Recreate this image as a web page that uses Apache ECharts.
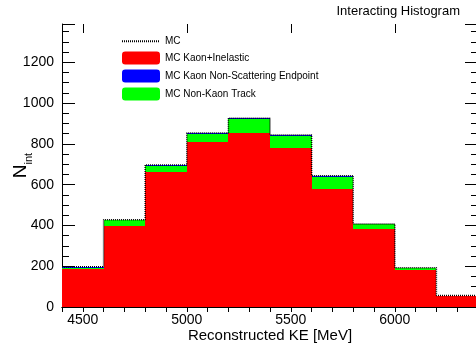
<!DOCTYPE html>
<html>
<head>
<meta charset="utf-8">
<script src="https://cdn.jsdelivr.net/npm/echarts@6/dist/echarts.min.js"></script>
<style>
  html, body { margin: 0; padding: 0; background: #fff; }
  #main { width: 476px; height: 344px; }
</style>
</head>
<body>
<div id="main"></div>
<script>
// bins (lower edges, MeV) and counts per bin
var binLow = [4400, 4600, 4800, 5000, 5200, 5400, 5600, 5800, 6000, 6200];
var binWidth = 200;
var kaonInelastic = [186, 395, 660, 807, 855, 779, 577, 383, 183, 52];
var nonKaonTrack = [7, 30, 34, 41, 66, 60, 63, 22, 8, 3];
var kaonEndpoint = [4, 3, 3, 5, 5, 5, 4, 2, 1, 1];
var mcTotal = [197, 428, 697, 853, 926, 844, 644, 407, 192, 56];
var xTickLabels = [4500, 5000, 5500, 6000];

var font = "'Liberation Sans', Arial, Helvetica, sans-serif";
var dom = document.getElementById("main");
var myChart = echarts.init(dom, null, { renderer: "canvas" });

// stack layers bottom-up: red, green, blue
var layers = [kaonInelastic, nonKaonTrack, kaonEndpoint];
function stackRows(k) {
  var rows = [];
  for (var i = 0; i < binLow.length; i++) {
    var base = 0;
    for (var j = 0; j < k; j++) base += layers[j][i];
    rows.push([binLow[i], binLow[i] + binWidth, base, base + layers[k][i]]);
  }
  return rows;
}

var mcLine = binLow.map(function (x, i) { return [x, mcTotal[i]]; });
mcLine.push([binLow[binLow.length - 1] + binWidth, mcTotal[mcTotal.length - 1]]);

function renderBin(params, api) {
  var p0 = api.coord([api.value(0), api.value(2)]);
  var p1 = api.coord([api.value(1), api.value(3)]);
  // snap to whole pixels so neighbouring bins join without seams
  var x0 = Math.round(p0[0]), x1 = Math.round(p1[0]);
  var yb = Math.round(p0[1]), yt = Math.round(p1[1]);
  return {
    type: "rect",
    shape: { x: x0, y: yt, width: x1 - x0, height: yb - yt },
    style: { fill: api.visual("color") },
  };
}

function histSeries(name, color, k) {
  return {
    name: name,
    type: "custom",
    renderItem: renderBin,
    itemStyle: { color: color },
    encode: { x: [0, 1], y: [2, 3] },
    data: stackRows(k),
    z: 2,
  };
}

function plain(v) { return String(v); }

var black = { color: "#000", width: 1 };

var option = {
  animation: false,
  textStyle: { fontFamily: font },
  title: {
    text: "Interacting Histogram",
    right: 16,
    top: 5,
    padding: 0,
    textStyle: { fontSize: 13, fontWeight: "normal", color: "#000", fontFamily: font },
  },
  legend: {
    orient: "vertical",
    left: 121,
    top: 36,
    padding: 0,
    itemWidth: 38,
    itemHeight: 13,
    itemGap: 5,
    textStyle: { fontSize: 10, color: "#000", fontFamily: font },
    data: [
      { name: "MC", itemStyle: { opacity: 0 } },
      { name: "MC Kaon+Inelastic", icon: "roundRect" },
      { name: "MC Kaon Non-Scattering Endpoint", icon: "roundRect" },
      { name: "MC Non-Kaon Track", icon: "roundRect" },
    ],
  },
  grid: { left: 62, top: 24, width: 416, height: 283, containLabel: false, outerBoundsMode: "none" },
  xAxis: [
    {
      type: "value",
      position: "bottom",
      min: 4400,
      max: 6400,
      interval: 100,
      axisLine: { show: true, lineStyle: black },
      axisTick: { show: false },
      axisLabel: {
        customValues: xTickLabels,
        formatter: plain,
        margin: 6,
        fontSize: 14,
        color: "#000",
        fontFamily: font,
      },
      splitLine: { show: false },
      name: "Reconstructed KE [MeV]",
      nameLocation: "middle",
      nameGap: 21,
      nameMoveOverlap: false,
      nameTextStyle: { fontSize: 15, color: "#000", fontFamily: font },
    },
    {
      type: "value",
      position: "top",
      min: 4400,
      max: 6400,
      interval: 100,
      axisLine: { show: true, lineStyle: black },
      axisTick: { show: true, inside: true, length: 5, lineStyle: black },
      axisLabel: { show: false },
      splitLine: { show: false },
    },
    {
      type: "value",
      position: "top",
      min: 4400,
      max: 6400,
      axisLine: { show: false },
      axisTick: { show: true, inside: true, length: 9, customValues: xTickLabels, lineStyle: black },
      axisLabel: { show: false },
      splitLine: { show: false },
    },
  ],
  yAxis: [
    {
      type: "value",
      position: "left",
      min: 0,
      max: 1388,
      interval: 200,
      axisLine: { show: true, lineStyle: black },
      axisTick: { show: true, inside: true, length: 13, lineStyle: black },
      minorTick: { show: true, splitNumber: 4, length: 7, lineStyle: black },
      axisLabel: { margin: 8, fontSize: 14, color: "#000", fontFamily: font, showMaxLabel: false, formatter: plain },
      splitLine: { show: false },
      name: "{n|N}{s|int}",
      nameLocation: "middle",
      nameGap: 28,
      nameMoveOverlap: false,
      nameTextStyle: {
        color: "#000",
        fontFamily: font,
        rich: {
          n: { fontSize: 19, verticalAlign: "bottom", padding: [0, 0, 4, 0], fontFamily: font, color: "#000" },
          s: { fontSize: 11, verticalAlign: "bottom", fontFamily: font, color: "#000" },
        },
      },
    },
    {
      type: "value",
      position: "right",
      min: 0,
      max: 1388,
      interval: 200,
      axisLine: { show: true, lineStyle: black },
      axisTick: { show: true, inside: true, length: 13, lineStyle: black },
      minorTick: { show: true, splitNumber: 4, length: 7, lineStyle: black },
      axisLabel: { show: false },
      splitLine: { show: false },
    },
  ],
  series: [
    histSeries("MC Kaon+Inelastic", "#ff0000", 0),
    histSeries("MC Non-Kaon Track", "#00ff00", 1),
    histSeries("MC Kaon Non-Scattering Endpoint", "#0000ff", 2),
    {
      name: "MC",
      type: "line",
      step: "end",
      showSymbol: false,
      symbol: "none",
      data: mcLine,
      itemStyle: { color: "#000" },
      lineStyle: { color: "#000", width: 1.5, type: [1, 1] },
      z: 3,
    },
  ],
};

myChart.setOption(option);
window.addEventListener("resize", myChart.resize);
</script>
</body>
</html>
